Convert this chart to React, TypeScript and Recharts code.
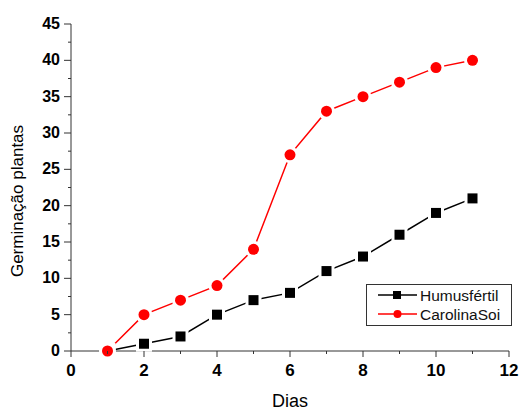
import React from "react";
import { Line, LineChart, XAxis, YAxis } from "recharts";

// Days on the x axis
const dias = [1, 2, 3, 4, 5, 6, 7, 8, 9, 10, 11];
// Germinated plants per series
const humusfertil = [0, 1, 2, 5, 7, 8, 11, 13, 16, 19, 21];
const carolinaSoi = [0, 5, 7, 9, 14, 27, 33, 35, 37, 39, 40];
// Tick values (major + minor)
const xTicks = [0, 1, 2, 3, 4, 5, 6, 7, 8, 9, 10, 11, 12];
const yTicks = [0, 2.5, 5, 7.5, 10, 12.5, 15, 17.5, 20, 22.5, 25, 27.5, 30, 32.5, 35, 37.5, 40, 42.5, 45];

const data = dias.map((d, i) => ({
  dia: d,
  Humusfertil: humusfertil[i],
  CarolinaSoi: carolinaSoi[i],
}));

const FONT = "'Liberation Sans', Arial, sans-serif";
const AXIS = "#333";

const XTick = (props: any) => {
  const { x, y, payload } = props;
  const major = payload.value % 2 === 0;
  return (
    <g>
      <line x1={x} x2={x} y1={y} y2={y + (major ? 6 : 3)} stroke={AXIS} strokeWidth={1} />
      {major && (
        <text x={x} y={y + 25} textAnchor="middle" fontFamily={FONT} fontWeight="bold" fontSize={17} fill="#000">
          {payload.value}
        </text>
      )}
    </g>
  );
};

const YTick = (props: any) => {
  const { x, y, payload } = props;
  const major = payload.value % 5 === 0;
  return (
    <g>
      <line x1={x} x2={x - (major ? 7 : 3)} y1={y} y2={y} stroke={AXIS} strokeWidth={1} />
      {major && (
        <text x={x - 11} y={y + 5} textAnchor="end" fontFamily={FONT} fontWeight="bold" fontSize={16} fill="#000">
          {payload.value}
        </text>
      )}
    </g>
  );
};

// y axis title, a bit below the plot centre like the original
const YLabel = () => (
  <text
    x={23}
    y={201}
    transform="rotate(-90 23 201)"
    textAnchor="middle"
    fontFamily={FONT}
    fontSize={17}
    fill="#000"
  >
    Germinação plantas
  </text>
);

// square marker with a white halo so the line breaks near it
const SquareDot = (props: any) => {
  const { cx, cy, index } = props;
  return (
    <g key={`sq-${index}`}>
      <rect x={cx - 8} y={cy - 8} width={16} height={16} fill="#fff" />
      <rect x={cx - 5} y={cy - 5} width={10} height={10} fill="#000" />
    </g>
  );
};

const CircleDot = (props: any) => {
  const { cx, cy, index } = props;
  return (
    <g key={`ci-${index}`}>
      <circle cx={cx} cy={cy} r={8.5} fill="#fff" />
      <circle cx={cx} cy={cy} r={5.5} fill="#ff0000" />
    </g>
  );
};

const LegendBox = () => (
  <div
    style={{
      position: "absolute",
      left: 366,
      top: 284,
      width: 146,
      height: 42,
      border: "1px solid #333",
      background: "#fff",
      boxSizing: "border-box",
    }}
  >
    <svg width={144} height={40} style={{ display: "block" }}>
      <line x1={11} x2={50} y1={10} y2={10} stroke="#000" strokeWidth={1.5} />
      <rect x={26} y={6} width={8} height={8} fill="#000" />
      <text x={53} y={15.5} fontFamily={FONT} fontSize={15.5} fill="#111">
        Humusfértil
      </text>
      <line x1={11} x2={50} y1={29} y2={29} stroke="#ff0000" strokeWidth={1.5} />
      <circle cx={30.5} cy={29} r={4} fill="#ff0000" />
      <text x={53} y={34.5} fontFamily={FONT} fontSize={15.5} fill="#111">
        CarolinaSoi
      </text>
    </svg>
  </div>
);

export default function App() {
  return (
    <div style={{ position: "absolute", left: 0, top: 0, width: 519, height: 411, background: "#fff" }}>
      <LineChart width={519} height={411} data={data} margin={{ top: 24, right: 10, left: 0, bottom: 0 }}>
        <XAxis
          dataKey="dia"
          type="number"
          domain={[0, 12]}
          ticks={xTicks}
          interval={0}
          tickSize={0}
          tickMargin={0}
          tickLine={false}
          tick={<XTick />}
          height={60}
          stroke={AXIS}
          label={{ value: "Dias", position: "insideBottom", offset: 4, fontFamily: FONT, fontSize: 18, fill: "#000" }}
        />
        <YAxis
          type="number"
          domain={[0, 45]}
          ticks={yTicks}
          interval={0}
          tickSize={0}
          tickMargin={0}
          tickLine={false}
          tick={<YTick />}
          width={71}
          stroke={AXIS}
          label={<YLabel />}
        />
        <Line
          type="linear"
          dataKey="Humusfertil"
          name="Humusfértil"
          stroke="#000"
          strokeWidth={1.5}
          dot={SquareDot}
          activeDot={false}
          isAnimationActive={false}
        />
        <Line
          type="linear"
          dataKey="CarolinaSoi"
          stroke="#ff0000"
          strokeWidth={1.5}
          dot={CircleDot}
          activeDot={false}
          isAnimationActive={false}
        />
      </LineChart>
      <LegendBox />
    </div>
  );
}
